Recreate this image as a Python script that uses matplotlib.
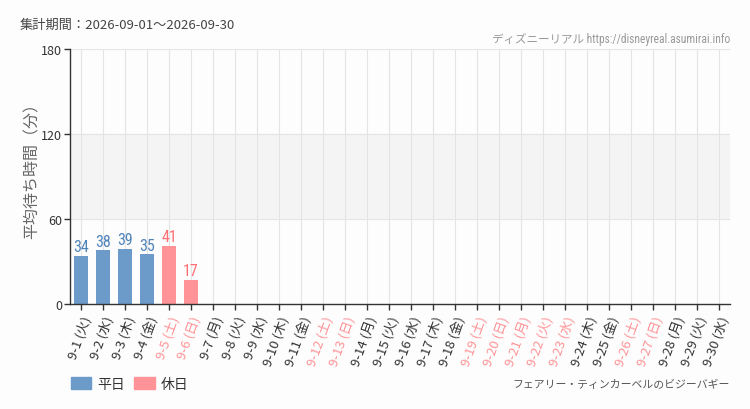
import matplotlib
matplotlib.use("Agg")
import matplotlib.pyplot as plt
from matplotlib.patches import Patch
from matplotlib import font_manager

plt.rcParams['font.family'] = ['Noto Sans CJK JP', 'DejaVu Sans']

# pick a condensed/narrow latin font if one is installed
cond = None
names = sorted({f.name for f in font_manager.fontManager.ttflist})
for pref in ["Roboto Condensed", "Liberation Sans Narrow", "Open Sans Condensed",
             "DejaVu Sans Condensed"]:
    if pref in names:
        cond = pref
        break
if cond is None:
    for n in names:
        if "Condensed" in n or "Narrow" in n:
            cond = n
            break
COND = [cond, "DejaVu Sans"] if cond else ["DejaVu Sans"]

days = [f"9-{d}" for d in range(1, 31)]
weekdays = ["火", "水", "木", "金", "土", "日", "月", "火", "水", "木",
            "金", "土", "日", "月", "火", "水", "木", "金", "土", "日",
            "月", "火", "水", "木", "金", "土", "日", "月", "火", "水"]
holiday = [0, 0, 0, 0, 1, 1, 0, 0, 0, 0,
           0, 1, 1, 0, 0, 0, 0, 0, 1, 1,
           1, 1, 1, 0, 0, 1, 1, 0, 0, 0]
values = [34, 38, 39, 35, 41, 17] + [None] * 24
yticks = [0, 60, 120, 180]

BLUE = "#6c9bc9"
PINK = "#ff9397"
BLUE_T = "#4f84bb"
PINK_T = "#ff6f74"
BG = "#fcfdfc"

fig = plt.figure(figsize=(7.5, 4.1), dpi=100, facecolor=BG)
ax = fig.add_axes([70/750, 1-305/410, 660/750, 255/410])
ax.set_facecolor(BG)

x = list(range(len(days)))
ax.axhspan(60, 120, color="#f3f4f3", zorder=0, lw=0)
for xi in x:
    ax.axvline(xi, color="#e4e4e4", lw=0.8, zorder=1)
for yv in yticks[1:]:
    ax.axhline(yv, color="#e4e4e4", lw=0.8, zorder=1)

for xi, v, h in zip(x, values, holiday):
    if v is None:
        continue
    c = PINK if h else BLUE
    tc = PINK_T if h else BLUE_T
    ax.bar(xi, v, width=0.68, color=c, zorder=2)
    ax.text(xi, v + 1.0, str(v), ha="center", va="bottom", color=tc,
            fontsize=11.5, family=COND, zorder=3)

ax.set_xlim(-0.5, len(days) - 0.5)
ax.set_ylim(0, 180)
ax.set_yticks(yticks)
ax.set_yticklabels([str(t) for t in yticks], fontsize=9, color="#333333")
ax.set_xticks(x)
labels = [f"{d} ({w})" for d, w in zip(days, weekdays)]
ax.set_xticklabels(labels, rotation=70, ha="right", rotation_mode="anchor", fontsize=9.5)
for lbl, h in zip(ax.get_xticklabels(), holiday):
    lbl.set_color(PINK if h else "#333333")
ax.tick_params(axis="both", direction="out", length=4, color="#333333", width=1)
ax.tick_params(axis="x", pad=3)
ax.tick_params(axis="y", pad=1.5)
for s in ["top", "right"]:
    ax.spines[s].set_visible(False)
for s in ["left", "bottom"]:
    ax.spines[s].set_color("#333333")
    ax.spines[s].set_linewidth(1)

ax.set_ylabel("平均待ち時間（分）", fontsize=11.5, color="#666666")
ax.yaxis.set_label_coords(-0.044, 0.54)

fig.text(20/750, 1-25/410, "集計期間：2026-09-01～2026-09-30", fontsize=9.5,
         color="#444444", ha="left", va="center")
fig.text(730/750, 1-40/410, "ディズニーリアル https://disneyreal.asumirai.info", fontsize=8.3,
         color="#999999", ha="right", va="center",
         family=COND[:-1] + ["Noto Sans CJK JP", "DejaVu Sans"])
fig.text(730/750, 1-385/410, "フェアリー・ティンカーベルのビジーバギー", fontsize=7.8,
         color="#555555", ha="right", va="center")

handles = [Patch(color=BLUE, label="平日"), Patch(color=PINK, label="休日")]
fig.legend(handles=handles, loc="center left", bbox_to_anchor=(58/750, 1-385/410),
           ncol=2, frameon=False, fontsize=10, handlelength=1.5, handleheight=1.0,
           columnspacing=0.7, handletextpad=0.4, labelcolor="#333333")

fig.savefig("out.png", dpi=100, facecolor=BG)
